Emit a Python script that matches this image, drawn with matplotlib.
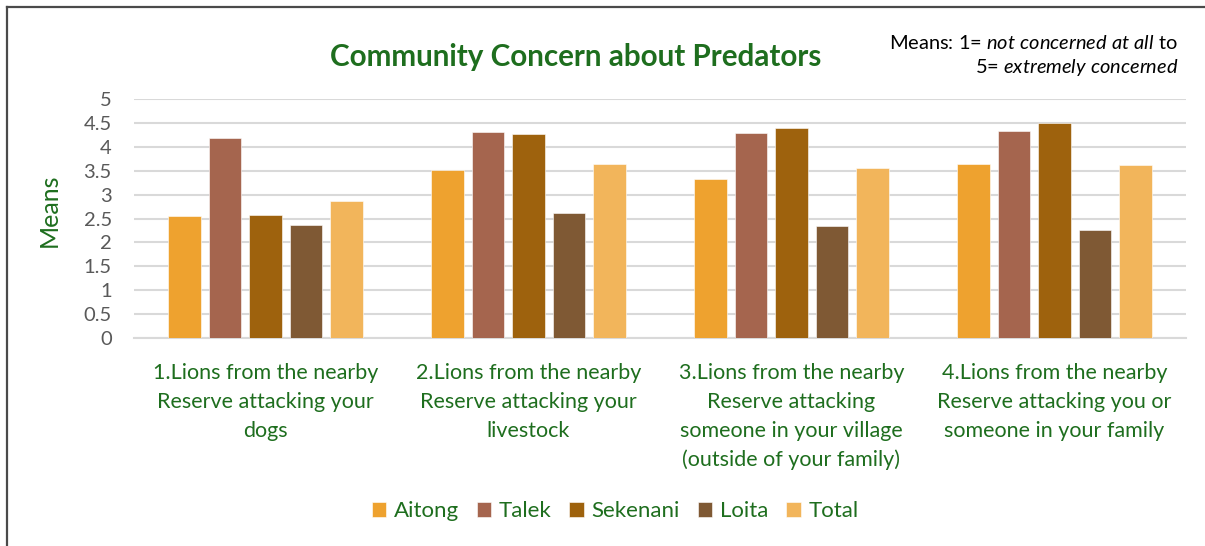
import matplotlib
matplotlib.use("Agg")
import matplotlib.pyplot as plt
import numpy as np
from matplotlib.lines import Line2D

categories = [
    "1.Lions from the nearby\nReserve attacking your\ndogs",
    "2.Lions from the nearby\nReserve attacking your\nlivestock",
    "3.Lions from the nearby\nReserve attacking\nsomeone in your village\n(outside of your family)",
    "4.Lions from the nearby\nReserve attacking you or\nsomeone in your family",
]
series_names = ["Aitong", "Talek", "Sekenani", "Loita", "Total"]
aitong = [2.56, 3.52, 3.33, 3.63]
talek = [4.19, 4.30, 4.28, 4.33]
sekenani = [2.57, 4.26, 4.40, 4.49]
loita = [2.37, 2.62, 2.35, 2.26]
total = [2.87, 3.64, 3.56, 3.62]
yticks = [0, 0.5, 1, 1.5, 2, 2.5, 3, 3.5, 4, 4.5, 5]
ytick_labels = ["0", "0.5", "1", "1.5", "2", "2.5", "3", "3.5", "4", "4.5", "5"]

colors = ["#EEA22F", "#A5654E", "#9E620D", "#7F5934", "#F2B55B"]
green = "#1E6E1E"
grey = "#595959"

plt.rcParams['font.family'] = ['Lato', 'DejaVu Sans']
plt.rcParams['mathtext.fontset'] = 'custom'
plt.rcParams['mathtext.rm'] = 'Lato'
plt.rcParams['mathtext.it'] = 'Lato:italic'

fig = plt.figure(figsize=(12.05, 5.46), dpi=100)
W, H = 1205, 546
ax = fig.add_axes([134 / W, 1 - 338 / H, (1186 - 134) / W, (338 - 99) / H])

data = [aitong, talek, sekenani, loita, total]
x = np.arange(len(categories))
pitch = 0.154
bw = 0.122
for i, (vals, name, c) in enumerate(zip(data, series_names, colors)):
    ax.bar(x + (i - 2) * pitch, vals, width=bw, color=c, label=name,
           edgecolor="#FFFFFF", linewidth=0.4, zorder=3)

ax.set_xlim(-0.5, 3.5)
ax.set_ylim(0, 5)
ax.set_yticks(yticks)
ax.set_yticklabels(ytick_labels, color=grey, fontsize=14.5)
ax.set_xticks(x)
ax.set_xticklabels(categories, color=green, fontsize=15.5, linespacing=1.55, va="top")
ax.tick_params(axis="both", length=0)
ax.tick_params(axis="x", pad=18)
ax.tick_params(axis="y", pad=16)
ax.grid(axis="y", color="#D9D9D9", linewidth=1.5, zorder=0)
for s in ["top", "right", "left"]:
    ax.spines[s].set_visible(False)
ax.spines["bottom"].set_color("#D9D9D9")
ax.spines["bottom"].set_linewidth(1.5)

ax.set_ylabel("Means", color=green, fontsize=18)
ax.yaxis.set_label_coords((61 - 134) / 1052, (338 - 210) / 239)

fig.text(576 / W, 1 - 57 / H, "Community Concern about Predators", color=green,
         fontsize=21.3, fontweight="bold", ha="center", va="center")
fig.text(1178 / W, 1 - 43 / H, "Means: 1= $\\it{not\\ concerned\\ at\\ all}$ to",
         fontsize=14.4, ha="right", va="center", color="black")
fig.text(1178 / W, 1 - 68 / H, "5= $\\it{extremely\\ concerned}$",
         fontsize=14.4, ha="right", va="center", color="black")

leg = fig.legend(loc="center", bbox_to_anchor=(615 / W, 1 - 511 / H), ncol=5,
                 frameon=False, fontsize=16, handlelength=0.65, handleheight=0.65,
                 columnspacing=0.8, handletextpad=0.35)
for t in leg.get_texts():
    t.set_color(green)

# outer frame: only left and top edges visible in the reference crop
fig.add_artist(Line2D([7 / W, 7 / W], [0, 1 - 7 / H], transform=fig.transFigure,
                      color="#4A4A4A", linewidth=1.6))
fig.add_artist(Line2D([7 / W, 1], [1 - 7 / H, 1 - 7 / H], transform=fig.transFigure,
                      color="#4A4A4A", linewidth=1.6))

fig.savefig("out.png", dpi=100)
